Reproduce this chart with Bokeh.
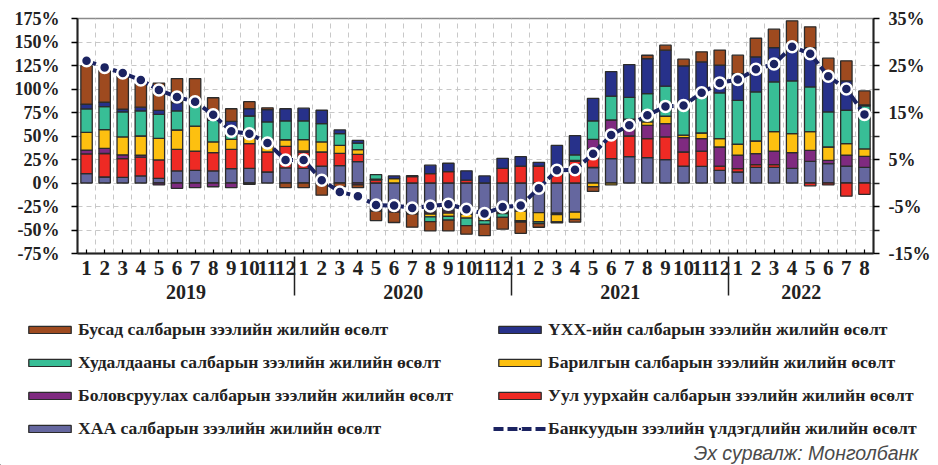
import numpy as np
from bokeh.plotting import figure
from bokeh.layouts import column
from bokeh.models import (FactorRange, Range1d, LinearAxis, FixedTicker, Grid, Legend,
                          LegendItem, ColumnDataSource, Label, CustomJSTickFormatter, Plot)
from bokeh.embed import file_html
from bokeh.resources import INLINE

# ---------------- data ----------------
years = ["2019", "2020", "2021", "2022"]
months_per_year = [12, 12, 12, 8]

haa = [10, 6.4, 6, 7.5, 5, 12.8, 13.5, 12.8, 15.3, 15.6, 11.7, 16,
       15.6, 18, 18.5, 22.7, -30, -28, -30, -31, -30, -33.4, -37, -31.6,
       -30, -31.6, -32, -31, 16.5, 26, 28, 27, 24.8, 18, 17.7, 13.5,
       11.7, 16.7, 16.7, 15.6, 23, 20.6, 18, 16.7]
mining = [21, 25, 20, 20, 19.5, 23, 20.5, 19.5, 20.5, 26.3, 21.3, 23,
          17, 15, 13, 7.8, 3, 0, 6.7, 10, 12, 3, 0, 15.6,
          18, 18, 17, 23, 20, 23, 22, 20.2, 24.2, 15, 16.3, 4.5,
          3.6, 2.8, 2.8, 0, -3, -2, -14, -12]
manuf = [4, 5.4, 4, 2, -2, -5.7, -5, -4, -5, -1.5, 0, 0,
         1.5, 0, 0, -2, 0, -3, -1, -2, -2, 0, 0, 0,
         0, 0, -1.5, 1, 10, 18, 18, 14.2, 14.2, 15.3, 13.2, 20.3,
         14.2, 11.7, 14.5, 16.7, 11.8, 3.5, 11.5, 11.7]
constr = [18.8, 20, 19, 20.5, 23, 20.6, 26.6, 11.4, 10.7, 8, 11, 7,
          12, 10.7, 8.5, 5, 1, 4.6, -2, -3, -3.5, -4, -3, -1,
          -10, -9.5, -8, -7.7, -4, -2, 0, 3.6, 7.8, 2.7, 6, 9,
          11.7, 13.5, 20.7, 20.2, 19.9, 14.2, 12.4, 7.8]
trade = [25, 24.5, 26.6, 26.7, 25.5, 20.3, 28.5, 23, 7.6, 21.4, 21, 20,
         20, 19.5, 12.5, 7, 5, 0, 0, -5, -4, -8, -4, -4,
         -1.5, -2, 0, 6, 19.5, 25.5, 23, 30, 32, 32.8, 41.2, 48.6,
         46.8, 52.3, 52.9, 56.1, 47.5, 37.3, 35.5, 45.8]
realestate = [5, 4.6, 3, 4, 4.3, 8.8, 1, 2, 11.4, 7.8, 13, 13,
              13.5, 14.2, 4, 2.8, 0, 2.9, 1, 9, 9, 10, 7.5, 10.7,
              10, 4, 23, 20.3, 24, 26, 35, 37.3, 38.3, 40.8, 34.5, 29.5,
              28.4, 37.2, 36.4, 40.8, 41.8, 38.4, 31.2, 1]
other = [41, 34, 35, 25, 29, 25.6, 21, 22, 13.5, 7.4, 2, -5,
         -5, -13, -4, -3, -10, -11, -14, -10, -11.5, -9, -12, -12.5,
         -12, -4, -1, -3, -5, 0, 0, 3.6, 5.3, 7.1, 10.6, 16,
         19.6, 19.8, 19.6, 23.1, 22.1, 18.8, 21.4, 15]
bank_loans = [26, 24.6, 23.4, 21.9, 19.8, 18.3, 17.3, 14.5, 11, 10.5, 8.5, 4.9,
              4.9, 0.6, -1.9, -2.8, -4.7, -4.8, -5.3, -4.9, -4.5, -5.6, -6.5, -5.1,
              -4.8, -1.1, 2.7, 2.8, 6.2, 10.2, 12.3, 14.4, 16.3, 16.5, 19.2, 21.3,
              22, 24.2, 25.3, 29, 27.5, 22.7, 20, 14.6]

names = {
    "other": "Бусад салбарын зээлийн жилийн өсөлт",
    "realestate": "ҮХХ-ийн салбарын зээлийн жилийн өсөлт",
    "trade": "Худалдааны салбарын зээлийн жилийн өсөлт",
    "constr": "Барилгын салбарын зээлийн жилийн өсөлт",
    "manuf": "Боловсруулах салбарын зээлийн жилийн өсөлт",
    "mining": "Уул уурхайн салбарын зээлийн жилийн өсөлт",
    "haa": "ХАА салбарын зээлийн жилийн өсөлт",
    "line": "Банкуудын зээлийн үлдэгдлийн жилийн өсөлт",
}
source_text = "Эх сурвалж: Монголбанк"
colors = {"haa": "#65679f", "mining": "#ee2a24", "manuf": "#7f2a80", "constr": "#fdc010",
          "trade": "#38be96", "realestate": "#27318a", "other": "#9e4a1f"}
line_color = "#1b2361"
bar_edge = "#2b2b2b"

factors = [(y, str(m)) for y, n in zip(years, months_per_year) for m in range(1, n + 1)]
n = len(factors)

W = 938
H_MAIN = 318
H_LEG = 465 - H_MAIN
can_unalign = "frame_align" in Plot.properties()

# ---------------- main figure ----------------
p = figure(x_range=FactorRange(*factors, group_padding=0, factor_padding=0,
                               subgroup_padding=0, range_padding=0),
           y_range=Range1d(-75, 175), width=W, height=H_MAIN,
           output_backend="svg", toolbar_location=None,
           min_border_left=77, min_border_right=65, min_border_top=18, min_border_bottom=65)
p.extra_y_ranges = {"r": Range1d(-15, 35)}
p.outline_line_color = "#8a8a8a"
p.outline_line_width = 1.5

serif = "Liberation Serif"
pct = CustomJSTickFormatter(code="return tick + '%';")

ly = p.yaxis[0]
ly.ticker = FixedTicker(ticks=list(range(-75, 176, 25)))
ly.formatter = pct
ly.major_label_text_font = serif
ly.major_label_text_font_style = "bold"
ly.major_label_text_font_size = "18px"
ly.major_label_text_color = "#222222"
ly.axis_line_width = 2
ly.axis_line_color = "#222222"
ly.major_tick_in = 0
ly.major_tick_out = 6
ly.major_tick_line_width = 1.5
ly.minor_tick_line_color = None
ly.major_label_standoff = 12

ry = LinearAxis(y_range_name="r", ticker=FixedTicker(ticks=[-15, -5, 5, 15, 25, 35],
                                                     minor_ticks=[-10, 0, 10, 20, 30]))
ry.formatter = pct
ry.major_label_text_font = serif
ry.major_label_text_font_style = "bold"
ry.major_label_text_font_size = "18px"
ry.major_label_text_color = "#222222"
ry.axis_line_width = 2
ry.axis_line_color = "#222222"
ry.major_tick_in = 0
ry.major_tick_out = 6
ry.minor_tick_in = 0
ry.minor_tick_out = 6
ry.major_tick_line_width = 1.5
ry.minor_tick_line_width = 1.5
ry.minor_tick_line_color = "#222222"
ry.major_label_standoff = 9
p.add_layout(ry, "right")

bx = p.xaxis[0]
bx.axis_line_width = 2
bx.axis_line_color = "#222222"
bx.major_tick_in = 4
bx.major_tick_out = 0
bx.major_tick_line_width = 1.2
bx.major_label_text_font = serif
bx.major_label_text_font_style = "bold"
bx.major_label_text_font_size = "21px"
bx.major_label_text_color = "#222222"
bx.major_label_standoff = 7
bx.group_text_font = serif
bx.group_text_font_style = "bold"
bx.group_text_font_size = "20px"
bx.group_text_color = "#222222"
bx.separator_line_color = "#222222"
bx.separator_line_width = 1.5

p.xgrid.visible = False
p.ygrid[0].grid_line_color = "#c8c8c8"
p.ygrid[0].grid_line_dash = "5 4"
vgrid = Grid(dimension=0, ticker=FixedTicker(ticks=list(range(1, n))),
             grid_line_color="#c8c8c8", grid_line_dash="5 4")
p.add_layout(vgrid)

# ---------------- stacked bars (positive & negative stacks) ----------------
order = [("haa", haa), ("mining", mining), ("manuf", manuf), ("constr", constr),
         ("trade", trade), ("realestate", realestate), ("other", other)]
pos = np.zeros(n)
neg = np.zeros(n)
for key, vals in order:
    v = np.array(vals, dtype=float)
    bottom = np.where(v >= 0, pos, neg)
    top = bottom + v
    pos = np.where(v >= 0, top, pos)
    neg = np.where(v < 0, top, neg)
    keep = v != 0
    src = ColumnDataSource(dict(x=[f for f, k in zip(factors, keep) if k],
                                bottom=bottom[keep], top=top[keep]))
    p.vbar(x="x", bottom="bottom", top="top", width=0.63, source=src,
           fill_color=colors[key], line_color=bar_edge, line_width=1.3)

lsrc = ColumnDataSource(dict(x=factors, y=bank_loans))
p.line(x="x", y="y", source=lsrc, y_range_name="r", line_color=line_color,
       line_width=4, line_dash="10 4")
p.scatter(x="x", y="y", source=lsrc, y_range_name="r", size=11,
          fill_color=line_color, line_color="white", line_width=2.5)

# ---------------- legend panel (own canvas below the chart) ----------------
q = figure(width=W, height=H_LEG, x_range=Range1d(0, W), y_range=Range1d(0, H_LEG),
           output_backend="svg", toolbar_location=None, x_axis_type=None, y_axis_type=None,
           min_border=0, min_border_left=0, min_border_right=0, min_border_top=0,
           min_border_bottom=0, outline_line_color=None)
q.grid.visible = False
if can_unalign:
    p.frame_align = False
    q.frame_align = False

# legend swatches: style proxies kept outside the visible window of this canvas
proxy = dict(x=[-50], bottom=[-50], top=[-40])
leg_r = {}
for key in colors:
    leg_r[key] = q.vbar(x=proxy["x"], bottom=proxy["bottom"], top=proxy["top"], width=5,
                        fill_color=colors[key], line_color=bar_edge, line_width=1.3)
leg_line = q.line(x=[-60, -40], y=[-50, -50], line_color=line_color, line_width=4,
                  line_dash="10 4")
leg_dot = q.scatter(x=[-50], y=[-50], size=11, fill_color=line_color,
                    line_color="white", line_width=1)


def make_legend(keys, loc):
    items = []
    for k in keys:
        rs = [leg_line, leg_dot] if k == "line" else [leg_r[k]]
        items.append(LegendItem(label=names[k], renderers=rs))
    lg = Legend(items=items, location=loc, orientation="vertical",
                glyph_width=53, glyph_height=9, label_height=20, spacing=12,
                label_standoff=2, padding=0, margin=0, border_line_color=None,
                background_fill_alpha=0,
                label_text_font=serif, label_text_font_style="bold",
                label_text_font_size="17.6px", label_text_color="#222222")
    q.add_layout(lg, "center")


make_legend(["other", "trade", "manuf", "haa"], (23, 26))
make_legend(["realestate", "constr", "mining", "line"], (493, 26))

q.add_layout(Label(x=918, y=13, x_units="screen", y_units="screen", text=source_text,
                   text_font="Liberation Sans", text_font_style="italic",
                   text_font_size="19.5px", text_color="#4a4a4a",
                   text_align="right", text_baseline="middle"))

layout = column(p, q, spacing=0)
open("out.html", "w").write(file_html(layout, INLINE))
